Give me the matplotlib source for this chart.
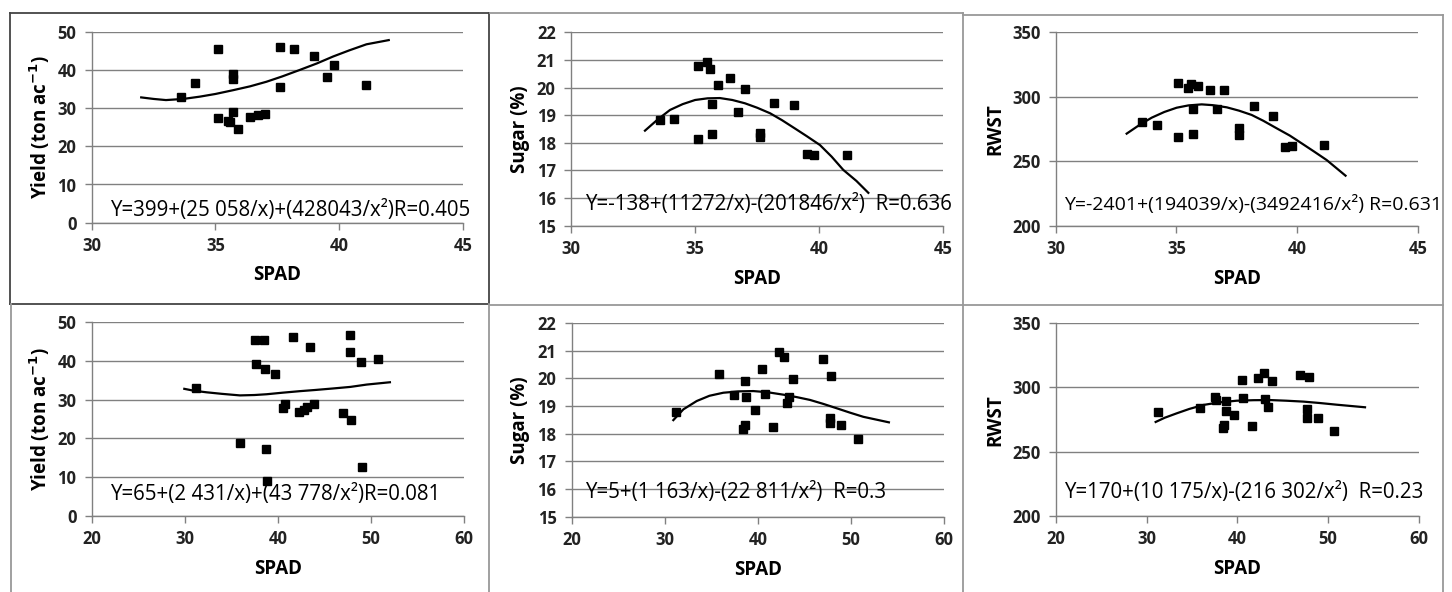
import matplotlib.pyplot as plt
from matplotlib.lines import Line2D

plt.rcParams['font.family'] = ['Open Sans', 'DejaVu Sans']

# ---- data ----
# top row (SPAD 30-45)
top_spad_yield = [33.6, 34.18, 35.11, 35.11, 35.49, 35.58, 35.69, 35.69, 35.69, 35.91,
                  36.39, 36.73, 37.02, 37.61, 37.61, 38.18, 38.99, 39.5, 39.78, 41.1]
top_yield = [32.9, 36.6, 45.5, 27.3, 26.7, 26.4, 38.9, 37.6, 28.9, 24.4,
             27.7, 28.1, 28.4, 46.1, 35.6, 45.5, 43.6, 38.2, 41.4, 36.0]
top_yield_fit_x = [32.0, 32.5, 33.0, 33.7, 34.37, 35.0, 35.72, 36.4, 37.06, 37.7, 38.41,
                   39.1, 39.75, 40.4, 41.1, 42.0]
top_yield_fit_y = [32.8, 32.4, 32.1, 32.4, 33.0, 33.7, 34.7, 35.7, 36.9, 38.3, 40.0,
                   41.7, 43.5, 45.1, 46.7, 47.8]

top_spad_sugar = [33.59, 34.16, 35.12, 35.12, 35.49, 35.59, 35.68, 35.68, 35.91, 36.39,
                  36.71, 37.01, 37.60, 37.60, 38.18, 38.97, 39.52, 39.78, 41.10]
top_sugar = [18.83, 18.86, 20.79, 18.15, 20.94, 20.67, 19.40, 18.31, 20.09, 20.36,
             19.12, 19.95, 18.34, 18.22, 19.43, 19.36, 17.59, 17.57, 17.57]
top_sugar_fit_x = [32.98, 33.5, 33.99, 34.5, 35.0, 35.5, 36.0, 36.5, 37.01, 37.5, 38.02,
                   38.5, 39.02, 39.5, 40.03, 40.5, 40.97, 41.5, 41.98]
top_sugar_fit_y = [18.44, 18.85, 19.19, 19.40, 19.55, 19.61, 19.62, 19.55, 19.43, 19.27,
                   19.07, 18.82, 18.52, 18.24, 17.92, 17.50, 17.02, 16.62, 16.19]

top_spad_rwst = [33.59, 34.19, 35.08, 35.08, 35.50, 35.59, 35.70, 35.70, 35.91, 36.38,
                 36.69, 36.99, 37.59, 37.59, 38.21, 38.99, 39.49, 39.78, 41.10]
top_rwst = [280.4, 277.8, 310.7, 268.8, 307.1, 309.9, 290.5, 271.1, 308.1, 305.5,
            290.8, 305.5, 276.0, 270.3, 292.6, 285.3, 261.3, 261.8, 262.3]
top_rwst_fit_x = [32.94, 33.5, 33.98, 34.5, 35.01, 35.5, 36.05, 36.5, 37.09, 37.6, 38.12,
                  38.6, 39.16, 39.7, 40.19, 40.7, 41.23, 42.01]
top_rwst_fit_y = [271.4, 278.5, 283.8, 288.2, 291.5, 293.3, 294.1, 293.5, 291.8, 289.2,
                  285.9, 281.4, 275.5, 269.9, 263.9, 257.6, 250.9, 238.8]

# bottom row (SPAD 20-60)
bot_spad_yield = [31.24, 35.90, 37.54, 37.61, 38.47, 38.65, 38.72, 38.80, 39.73, 40.52,
                  40.77, 41.59, 42.31, 42.81, 43.09, 43.42, 43.85, 47.03, 47.75, 47.75,
                  47.89, 48.93, 49.04, 50.72]
bot_yield = [32.9, 18.9, 45.5, 39.1, 45.5, 37.8, 17.2, 9.1, 36.7, 27.9,
             28.9, 46.1, 26.8, 27.4, 28.2, 43.7, 28.8, 26.5, 46.6, 42.4,
             24.7, 39.8, 12.5, 40.5]
bot_yield_fit_x = [29.95, 31.0, 32.35, 34.0, 35.93, 37.5, 38.80, 40.5, 42.38, 44.0, 45.96,
                   47.8, 49.54, 52.04]
bot_yield_fit_y = [32.8, 32.3, 31.9, 31.5, 31.1, 31.2, 31.4, 31.8, 32.2, 32.5, 32.9,
                   33.3, 33.9, 34.5]

bot_spad_sugar = [31.17, 35.83, 37.47, 38.66, 38.63, 38.44, 38.77, 39.73, 40.44, 40.77,
                  41.59, 42.27, 42.85, 43.09, 43.38, 43.81, 47.0, 47.71, 47.71, 47.89,
                  48.89, 50.72]
bot_sugar = [18.80, 20.14, 19.40, 19.90, 18.31, 18.16, 19.34, 18.86, 20.33, 19.42,
             18.24, 20.96, 20.77, 19.11, 19.34, 19.96, 20.69, 18.58, 18.37, 20.08,
             18.31, 17.80]
bot_sugar_fit_x = [30.92, 32.0, 33.43, 34.8, 36.29, 38.0, 39.51, 41.0, 42.74, 44.2, 45.6,
                   47.0, 48.46, 49.9, 51.33, 54.08]
bot_sugar_fit_y = [18.49, 18.88, 19.18, 19.37, 19.48, 19.53, 19.54, 19.50, 19.41, 19.32,
                   19.22, 19.08, 18.92, 18.76, 18.61, 18.41]

bot_spad_rwst = [31.21, 35.92, 37.54, 37.61, 38.71, 38.79, 38.57, 38.42, 39.67, 40.48,
                 40.66, 41.58, 42.32, 42.94, 43.09, 43.35, 43.79, 46.95, 47.94, 47.65,
                 47.65, 48.86, 50.70]
bot_rwst = [280.7, 283.8, 292.6, 290.3, 289.5, 281.5, 271.1, 268.5, 278.6, 305.5,
            292.1, 270.3, 307.1, 310.9, 291.0, 285.1, 305.2, 309.9, 307.8, 283.0,
            276.5, 276.5, 266.5]
bot_rwst_fit_x = [30.99, 32.0, 33.31, 34.7, 36.25, 38.0, 39.93, 41.8, 43.60, 45.4, 47.28,
                  49.1, 50.96, 54.08]
bot_rwst_fit_y = [273.2, 276.5, 279.9, 283.3, 286.4, 288.4, 289.7, 290.1, 290.2, 289.7,
                  289.0, 287.9, 286.6, 284.6]

eq_texts = [
    "Y=399+(25 058/x)+(428043/x²)R=0.405",
    "Y=-138+(11272/x)-(201846/x²)  R=0.636",
    "Y=-2401+(194039/x)-(3492416/x²) R=0.631",
    "Y=65+(2 431/x)+(43 778/x²)R=0.081",
    "Y=5+(1 163/x)-(22 811/x²)  R=0.3",
    "Y=170+(10 175/x)-(216 302/x²)  R=0.23",
]
eq_sizes = [14.8, 14.8, 14.0, 14.8, 14.8, 14.8]

W, H = 1452, 592
fig = plt.figure(figsize=(14.52, 5.92), dpi=100)


def px_axes(x0, x1, ytop, ybot):
    return fig.add_axes([x0 / W, 1 - ybot / H, (x1 - x0) / W, (ybot - ytop) / H])


panels = [
    # (x0, x1, ytop, ybot), x data, y data, fit x, fit y, xlim, xticks, ylim, yticks, ylabel, ylabel x, text pos
    ((91.7, 463, 31.7, 222.7), top_spad_yield, top_yield, top_yield_fit_x, top_yield_fit_y,
     (30, 45), [30, 35, 40, 45], (0, 50), range(0, 51, 10),
     'Yield (ton ac$^{\\mathbf{-1}}$)', -0.139, (30.74, 3.1)),
    ((571, 943.3, 32.3, 225.7), top_spad_sugar, top_sugar, top_sugar_fit_x, top_sugar_fit_y,
     (30, 45), [30, 35, 40, 45], (15, 22), range(15, 23),
     'Sugar (%)', -0.137, (30.56, 15.77)),
    ((1055.7, 1417.7, 32.3, 225.7), top_spad_rwst, top_rwst, top_rwst_fit_x, top_rwst_fit_y,
     (30, 45), [30, 35, 40, 45], (200, 350), range(200, 351, 50),
     'RWST', -0.168, (30.36, 216.6)),
    ((91.7, 464, 322.3, 515.7), bot_spad_yield, bot_yield, bot_yield_fit_x, bot_yield_fit_y,
     (20, 60), [20, 30, 40, 50, 60], (0, 50), range(0, 51, 10),
     'Yield (ton ac$^{\\mathbf{-1}}$)', -0.139, (21.97, 5.5)),
    ((571.7, 944, 323, 516.7), bot_spad_sugar, bot_sugar, bot_sugar_fit_x, bot_sugar_fit_y,
     (20, 60), [20, 30, 40, 50, 60], (15, 22), range(15, 23),
     'Sugar (%)', -0.139, (21.43, 15.88)),
    ((1056, 1418.7, 323, 516.3), bot_spad_rwst, bot_rwst, bot_rwst_fit_x, bot_rwst_fit_y,
     (20, 60), [20, 30, 40, 50, 60], (200, 350), range(200, 351, 50),
     'RWST', -0.168, (20.92, 218.4)),
]

for i, (box, xs, ys, fx, fy, xlim, xt, ylim, yt, ylab, ylx, tpos) in enumerate(panels):
    ax = px_axes(*box)
    ax.set_xlim(*xlim)
    ax.set_ylim(*ylim)
    ax.set_xticks(xt)
    ax.set_yticks(list(yt))
    ax.yaxis.grid(True, color='#808080', linewidth=1.0)
    ax.set_axisbelow(True)
    for s in ['top', 'right']:
        ax.spines[s].set_visible(False)
    for s in ['left', 'bottom']:
        ax.spines[s].set_color('#808080')
        ax.spines[s].set_linewidth(1.0)
    ax.tick_params(axis='both', direction='out', length=5, width=1.0, color='#808080',
                   labelsize=12, labelcolor='#222222')
    ax.tick_params(axis='x', pad=5)
    ax.tick_params(axis='y', pad=6)
    for lab in ax.get_xticklabels() + ax.get_yticklabels():
        lab.set_fontweight('bold')
    ax.plot(xs, ys, 's', color='black', markersize=6.3, clip_on=False, zorder=3)
    ax.plot(fx, fy, '-', color='black', linewidth=1.6, clip_on=False, zorder=2)
    ax.set_xlabel('SPAD', fontsize=13.5, fontweight='bold', va='center')
    ax.xaxis.set_label_coords(0.5, -0.275)
    ax.set_ylabel(ylab, fontsize=13.5, fontweight='bold', va='center')
    ax.yaxis.set_label_coords(ylx, 0.5)
    ax.text(tpos[0], tpos[1], eq_texts[i], fontsize=eq_sizes[i], ha='left', va='center',
            color='black', clip_on=False)


def fig_line(x0, y0, x1, y1, color, lw=1.3):
    fig.add_artist(Line2D([x0 / W, x1 / W], [1 - y0 / H, 1 - y1 / H],
                          transform=fig.transFigure, color=color, linewidth=lw))


dark = '#444444'
light = '#999999'
# top-left box
fig_line(10, 13.3, 489, 13.3, dark)
fig_line(10, 13.3, 10, 304, dark)
fig_line(489, 13.3, 489, 304, dark)
fig_line(10, 304, 489, 304, dark)
# bottom-left box
fig_line(11, 304, 11, 592, light)
fig_line(489, 304, 489, 592, light)
# middle column
fig_line(490, 13.3, 963, 13.3, light)
fig_line(963, 13.3, 963, 592, light)
fig_line(490, 305, 1442.7, 305, light)
# right column
fig_line(963, 15, 1442.7, 15, light)
fig_line(1442.7, 15, 1442.7, 592, light)

fig.savefig('out.png', dpi=100)
